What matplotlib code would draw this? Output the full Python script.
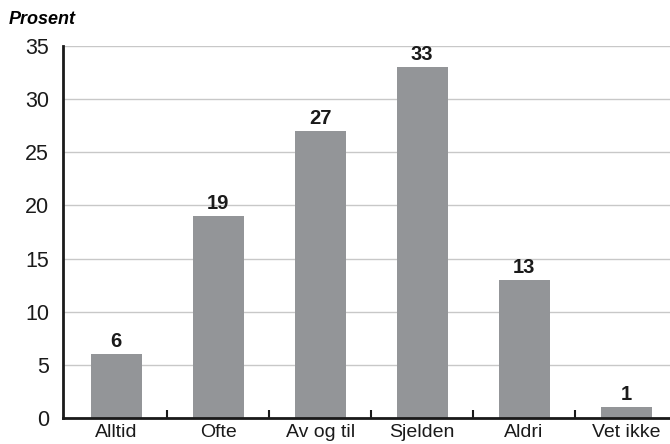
import matplotlib.pyplot as plt
import numpy as np

plt.rcParams['font.family'] = ['Liberation Sans', 'DejaVu Sans']

categories = ['Alltid', 'Ofte', 'Av og til', 'Sjelden', 'Aldri', 'Vet ikke']
values = [6, 19, 27, 33, 13, 1]
yticks = [0, 5, 10, 15, 20, 25, 30, 35]

fig = plt.figure(figsize=(6.7, 4.44), dpi=100)
ax = fig.add_axes([0.094, 0.0586, 0.906, 0.838])

x = np.arange(len(categories))
ax.bar(x, values, width=0.5, color='#939598', zorder=2)
for xi, v in zip(x, values):
    ax.text(xi, v + 0.3, str(v), ha='center', va='bottom', fontsize=14.5, fontweight='bold', color='#1a1a1a')

ax.set_xlim(-0.52, 5.43)
ax.set_ylim(0, 35)
ax.set_yticks(yticks)
ax.yaxis.grid(True, color='#c8c8c8', linewidth=1, zorder=0)
ax.tick_params(axis='y', length=0, labelsize=15.5, pad=10, labelcolor='#1a1a1a')

ax.set_xticks(x)
ax.set_xticklabels(categories, fontsize=14, color='#1a1a1a')
ax.tick_params(axis='x', length=0, pad=4)
ax.set_xticks(x[:-1] + 0.5, minor=True)
ax.tick_params(axis='x', which='minor', direction='in', length=6, width=1.5, color='#1a1a1a')

for s in ['top', 'right']:
    ax.spines[s].set_visible(False)
ax.spines['left'].set_linewidth(2)
ax.spines['bottom'].set_linewidth(2)
ax.spines['left'].set_color('#1a1a1a')
ax.spines['bottom'].set_color('#1a1a1a')

fig.text(0.013, 0.955, 'Prosent', fontsize=13, fontweight='bold', fontstyle='italic', va='center', ha='left')

fig.savefig('out.png', dpi=100)
